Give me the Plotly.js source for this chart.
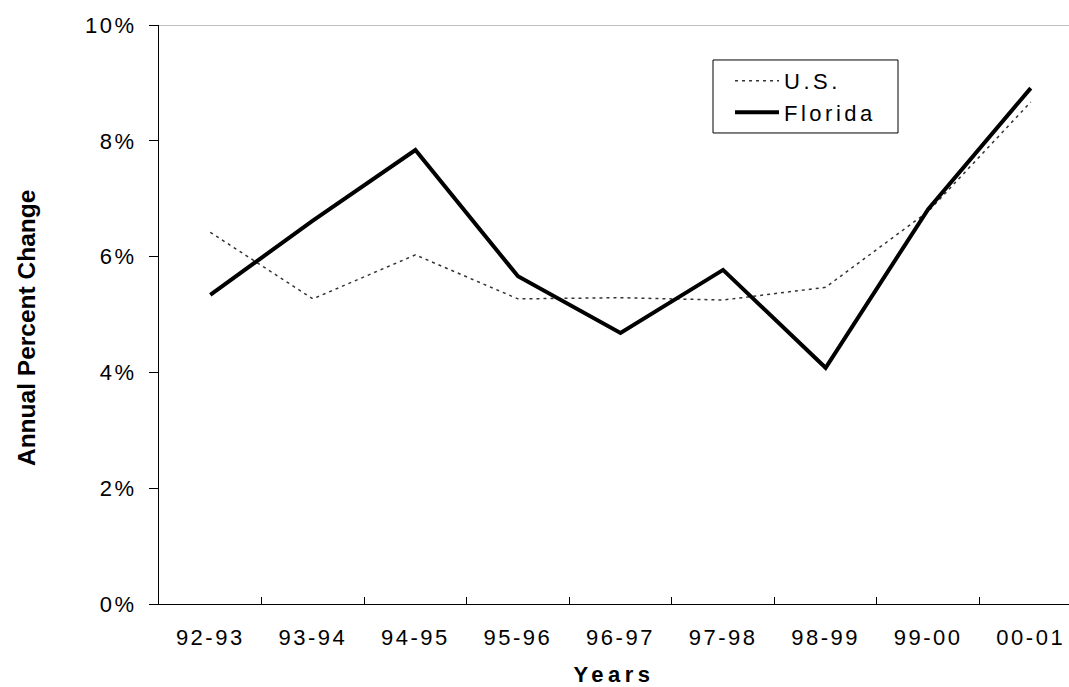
<!DOCTYPE html>
<html>
<head>
<meta charset="utf-8">
<script src="https://cdn.plot.ly/plotly-3.0.1.min.js"></script>
<style>
  html, body { margin: 0; padding: 0; overflow: hidden; background: #fff; }
  #chart { width: 1069px; height: 687px; }
  .xtick text, .ytick text { letter-spacing: 2.5px; }
  .legendtext { letter-spacing: 3.5px; }
  .g-xtitle text { letter-spacing: 4.5px; }
</style>
</head>
<body>
<div id="chart"></div>
<script>
const years = ["92-93", "93-94", "94-95", "95-96", "96-97", "97-98", "98-99", "99-00", "00-01"];
const usChange = [6.42, 5.27, 6.03, 5.27, 5.29, 5.25, 5.47, 6.78, 8.67];
const floridaChange = [5.34, 6.62, 7.84, 5.66, 4.68, 5.77, 4.08, 6.82, 8.91];
const yTickVals = [0, 2, 4, 6, 8, 10];
const yTickText = ["0%", "2%", "4%", "6%", "8%", "10%"];

const font = "Liberation Sans, Arial, sans-serif";

const traces = [
  {
    x: years, y: usChange, name: "U.S.", type: "scatter", mode: "lines",
    line: { color: "#333333", width: 1.5, dash: "3px,4px" }
  },
  {
    x: years, y: floridaChange, name: "Florida", type: "scatter", mode: "lines",
    line: { color: "#000000", width: 4 }
  }
];

const layout = {
  width: 1069, height: 687,
  margin: { l: 159, r: 0, t: 25, b: 83 },
  paper_bgcolor: "#ffffff", plot_bgcolor: "#ffffff",
  font: { family: font, size: 22, color: "#000" },
  showlegend: true,
  legend: {
    x: 0.6275, y: 0.9396, xanchor: "left", yanchor: "top",
    bgcolor: "rgba(0,0,0,0)", borderwidth: 0,
    font: { family: font, size: 22, color: "#000" },
    itemwidth: 44,
    tracegroupgap: 0
  },
  xaxis: {
    type: "category", categoryarray: years, categoryorder: "array",
    range: [-0.5, 8.373], tickson: "boundaries",
    ticks: "inside", ticklen: 7, tickcolor: "#000", tickwidth: 1,
    showline: true, linecolor: "#000", linewidth: 1,
    showgrid: false, zeroline: false,
    tickfont: { family: font, size: 22, color: "#000" },
    ticklabelstandoff: 14,
    title: { text: "<b>Years</b>", font: { family: font, size: 22, color: "#000" }, standoff: 22 }
  },
  xaxis2: {
    overlaying: "x", anchor: "y", type: "linear", range: [-0.5, 8.373],
    tickvals: years.map((c, i) => i),
    ticks: "inside", ticklen: 4, tickcolor: "#000", tickwidth: 1,
    showticklabels: false, showline: false, showgrid: false, zeroline: false
  },
  yaxis: {
    range: [0, 10], tickvals: yTickVals, ticktext: yTickText,
    ticks: "outside", ticklen: 9, tickcolor: "#000", tickwidth: 1,
    showline: true, linecolor: "#000", linewidth: 1,
    showgrid: false, zeroline: false,
    tickfont: { family: font, size: 22, color: "#000" },
    ticklabelstandoff: 8
  },
  shapes: [
    { type: "line", xref: "paper", yref: "y", x0: 0, x1: 1, y0: 10, y1: 10,
      line: { color: "#aaaaaa", width: 1.5 } },
    { type: "rect", xref: "paper", yref: "paper", layer: "above",
      x0: 0.6088, x1: 0.8121, y0: 0.8135, y1: 0.9396,
      fillcolor: "#ffffff", line: { color: "#000000", width: 1 } }
  ],
  annotations: [
    { text: "<b>Annual Percent Change</b>", textangle: -90,
      xref: "paper", yref: "paper", x: -0.145, y: 0.4767,
      xanchor: "center", yanchor: "middle", showarrow: false,
      font: { family: font, size: 24.5, color: "#000" } }
  ]
};

Plotly.newPlot("chart", traces, layout, { displayModeBar: false, staticPlot: true });
</script>
</body>
</html>
